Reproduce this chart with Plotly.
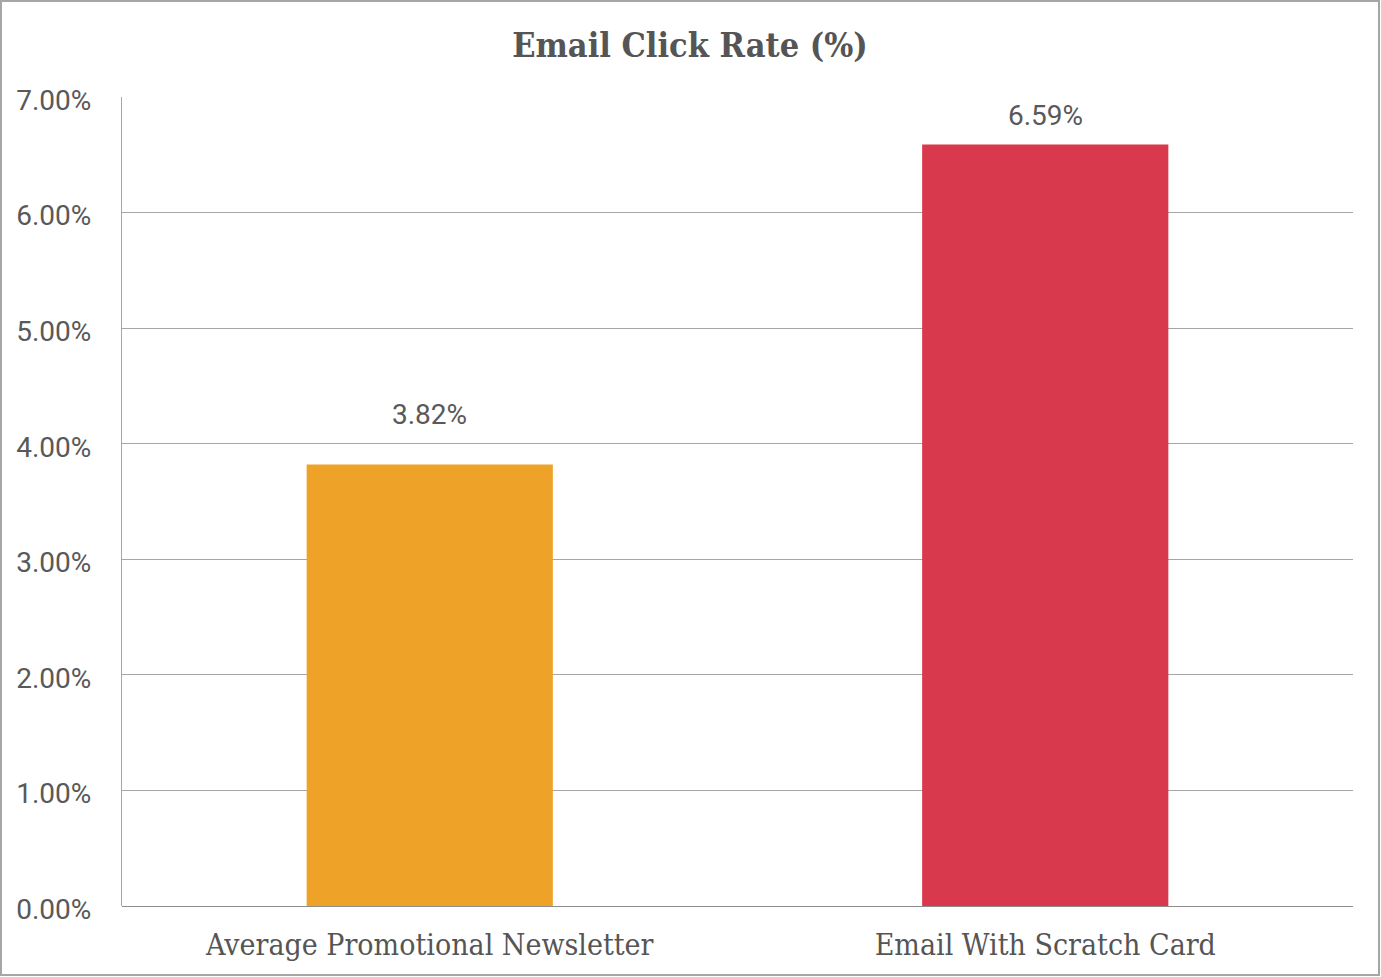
import plotly.graph_objects as go

categories = ["Average Promotional Newsletter", "Email With Scratch Card"]
values = [3.82, 6.59]
colors = ["#EEA328", "#D9394C"]
tick_vals = [0, 1, 2, 3, 4, 5, 6, 7]
tick_text = [f"{v:.2f}%" for v in tick_vals]

W, H = 1381, 977
L, R, T, B = 122, 28, 97, 71
pw, ph = W - L - R, H - T - B
SLAB = "DejaVu Serif Condensed, DejaVu Serif"
label_shift = [32, 10]

fig = go.Figure()
fig.add_trace(go.Bar(
    x=categories, y=values, marker=dict(color=colors, line=dict(width=0)),
    width=0.4, hoverinfo="skip",
))
for c, v, s in zip(categories, values, label_shift):
    fig.add_annotation(x=c, y=v, text=f"{v:.2f}%", showarrow=False,
                       yanchor="bottom", yshift=s,
                       font=dict(family="Roboto", size=28, color="#595959"))

fig.add_shape(type="rect", xref="paper", yref="paper",
              x0=(1 - L) / pw, x1=(W - 2 - L) / pw,
              y0=(T + ph - (H - 2)) / ph, y1=(T + ph - 1) / ph,
              line=dict(color="#a6a6a6", width=2), layer="below")

fig.update_layout(
    width=W, height=H,
    margin=dict(l=L, r=R, t=T, b=B),
    paper_bgcolor="white", plot_bgcolor="white",
    showlegend=False,
    title=dict(text="<b>Email Click Rate (%)</b>", x=(690 - L) / pw, xref="paper", xanchor="center",
               y=1 - 45 / H, yanchor="middle",
               font=dict(family=SLAB, size=34, color="#555555")),
    bargap=0.6,
)
fig.update_xaxes(showgrid=False, showline=False, ticks="",
                 tickfont=dict(family=SLAB, size=30, color="#555555"),
                 ticklabelstandoff=18)
fig.update_yaxes(range=[0, 7], tickvals=tick_vals, ticktext=tick_text,
                 showgrid=True, gridcolor="#a6a6a6", gridwidth=1.3,
                 showline=True, linecolor="#a6a6a6", linewidth=1.3,
                 zeroline=True, zerolinecolor="#8c8c8c", zerolinewidth=1.3,
                 ticks="", ticklabelstandoff=24, ticklabelshift=3,
                 tickfont=dict(family="Roboto", size=28, color="#595959"))

fig.write_html("out.html", config={"displayModeBar": False},
               post_script="document.body.style.margin='0';document.body.style.overflow='hidden';")
